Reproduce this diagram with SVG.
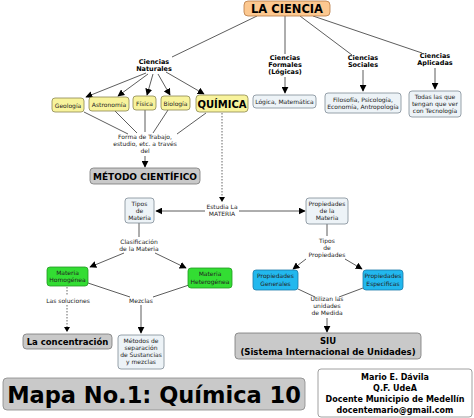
<svg xmlns="http://www.w3.org/2000/svg" width="474" height="418" viewBox="0 0 474 418">
<defs>
<marker id="ah" viewBox="0 0 10 10" refX="9" refY="5" markerWidth="7" markerHeight="7" orient="auto" markerUnits="userSpaceOnUse"><path d="M0,0 L10,5 L0,10 z" fill="#000"/></marker>
<style>
text{font-family:"DejaVu Sans",Verdana,sans-serif;text-anchor:middle;fill:#000}
.s{font-size:6px;fill:#222}
.sb{font-size:6.5px;font-weight:bold}
.ln{stroke:#333;stroke-width:0.8;fill:none}
.ar{stroke:#333;stroke-width:0.8;fill:none;marker-end:url(#ah)}
.dt{stroke:#555;stroke-width:0.9;fill:none;stroke-dasharray:1.5,1.5}
.yel{fill:#f8f39c;stroke:#8a8650;stroke-width:0.8}
.blu{fill:#edf3f7;stroke:#7d8a96;stroke-width:0.8}
.gry{fill:#c9c9c9;stroke:#777;stroke-width:0.8}
.grn{fill:#33dd33;stroke:#229922;stroke-width:0.8}
.cyn{fill:#22b8ee;stroke:#1a7aa8;stroke-width:0.8}
</style>
</defs>
<rect width="474" height="418" fill="#fff"/>
<g id="connectors">
<line class="ln" x1="257" y1="16" x2="172" y2="57"/>
<line class="ln" x1="285" y1="16" x2="285" y2="54"/>
<line class="ln" x1="300" y1="16" x2="352" y2="55"/>
<line class="ln" x1="313" y1="16" x2="422" y2="53"/>
<line class="ar" x1="285" y1="77" x2="285" y2="93"/>
<line class="ar" x1="363" y1="70" x2="363" y2="91"/>
<line class="ar" x1="435" y1="68" x2="435" y2="89"/>
<line class="ar" x1="146" y1="73" x2="86" y2="97"/>
<line class="ar" x1="148" y1="74" x2="118" y2="96"/>
<line class="ar" x1="153" y1="74" x2="147" y2="95"/>
<line class="ar" x1="158" y1="74" x2="170" y2="95"/>
<line class="ar" x1="166" y1="72" x2="204" y2="94"/>
<line class="ln" x1="84" y1="112" x2="128" y2="134"/>
<line class="ln" x1="115" y1="111" x2="137" y2="133"/>
<line class="ln" x1="145" y1="110" x2="145" y2="132"/>
<line class="ln" x1="168" y1="110" x2="153" y2="133"/>
<line class="ln" x1="206" y1="113" x2="177" y2="134"/>
<line class="ar" x1="145" y1="156" x2="145" y2="167"/>
<line class="dt" x1="222" y1="113" x2="222" y2="198"/>
<path d="M219,197 L225,197 L222,202 z" fill="#000"/>
<line class="ar" x1="205" y1="211" x2="156" y2="211"/>
<line class="ar" x1="239" y1="211" x2="305" y2="211"/>
<line class="ln" x1="139" y1="223" x2="139" y2="237"/>
<line class="ar" x1="124" y1="253" x2="90" y2="267"/>
<line class="ar" x1="155" y1="253" x2="186" y2="268"/>
<line class="ln" x1="327" y1="224" x2="327" y2="236"/>
<line class="ar" x1="306" y1="259" x2="293" y2="269"/>
<line class="ar" x1="345" y1="259" x2="362" y2="269"/>
<line class="dt" x1="67" y1="287" x2="67" y2="296"/>
<line class="dt" x1="67" y1="305" x2="67" y2="328"/>
<path d="M64,327 L70,327 L67,332 z" fill="#000"/>
<line class="ln" x1="88" y1="283" x2="130" y2="297"/>
<line class="ln" x1="189" y1="285" x2="153" y2="297"/>
<line class="ar" x1="141" y1="305" x2="141" y2="333"/>
<line class="ln" x1="298" y1="289" x2="315" y2="297"/>
<line class="ln" x1="363" y1="288" x2="339" y2="297"/>
<line class="ar" x1="327" y1="318" x2="327" y2="332"/>
</g>
<g id="la-ciencia"><rect x="244" y="1" width="86" height="15" rx="4" fill="#fcc890" stroke="#b87a45" stroke-width="0.8"/><text x="287" y="13" style="font-size:11.5px;font-weight:bold">LA CIENCIA</text></g>
<g id="ciencias-naturales"><text class="sb" x="154" y="64">Ciencias</text><text class="sb" x="154" y="71">Naturales</text></g>
<g id="ciencias-formales"><text class="sb" x="285" y="60">Ciencias</text><text class="sb" x="285" y="67">Formales</text><text class="sb" x="285" y="74">(Lógicas)</text></g>
<g id="ciencias-sociales"><text class="sb" x="363" y="60">Ciencias</text><text class="sb" x="363" y="67">Sociales</text></g>
<g id="ciencias-aplicadas"><text class="sb" x="435" y="58">Ciencias</text><text class="sb" x="435" y="65">Aplicadas</text></g>
<g id="geologia"><rect class="yel" x="52" y="98" width="32" height="14" rx="3"/><text class="s" x="68" y="107.5">Geología</text></g>
<g id="astronomia"><rect class="yel" x="89" y="97" width="40" height="14" rx="3"/><text class="s" x="109" y="106.5">Astronomía</text></g>
<g id="fisica"><rect class="yel" x="133" y="96" width="23" height="14" rx="3"/><text class="s" x="144.5" y="105.5">Física</text></g>
<g id="biologia"><rect class="yel" x="161" y="96" width="29" height="14" rx="3"/><text class="s" x="175.5" y="105.5">Biología</text></g>
<g id="quimica"><rect class="yel" x="196" y="95" width="52" height="17" rx="3.5"/><text x="222" y="108" style="font-size:10px;font-weight:bold">QUÍMICA</text></g>
<g id="logica"><rect class="blu" x="253" y="95" width="63" height="13" rx="3"/><text class="s" x="284.5" y="104">Lógica, Matemática</text></g>
<g id="filosofia"><rect class="blu" x="325" y="93" width="76" height="20" rx="3"/><text class="s" x="363" y="101.5">Filosofía, Psicología,</text><text class="s" x="363" y="109">Economía, Antropología</text></g>
<g id="todas"><rect class="blu" x="409" y="91" width="52" height="26" rx="3"/><text class="s" x="435" y="99">Todas las que</text><text class="s" x="435" y="106">tengan que ver</text><text class="s" x="435" y="113">con Tecnología</text></g>
<g id="forma-trabajo"><text class="s" x="145" y="139">Forma de Trabajo,</text><text class="s" x="145" y="146">estudio, etc. a través</text><text class="s" x="145" y="153">del</text></g>
<g id="metodo"><rect class="gry" x="90" y="168" width="110" height="16" rx="3.5"/><text x="145" y="180" style="font-size:9px;font-weight:bold">MÉTODO CIENTÍFICO</text></g>
<g id="estudia"><text class="s" x="222" y="209">Estudia La</text><text class="s" x="222" y="216">MATERIA</text></g>
<g id="tipos-materia"><rect class="blu" x="125" y="198" width="29" height="25" rx="3"/><text class="s" x="139.5" y="205.5">Tipos</text><text class="s" x="139.5" y="212.5">de</text><text class="s" x="139.5" y="219.5">Materia</text></g>
<g id="propiedades-materia"><rect class="blu" x="306" y="198" width="42" height="26" rx="3"/><text class="s" x="327" y="206">Propiedades</text><text class="s" x="327" y="213">de la</text><text class="s" x="327" y="220">Materia</text></g>
<g id="clasificacion"><text class="s" x="139" y="244">Clasificación</text><text class="s" x="139" y="251">de la Materia</text></g>
<g id="tipos-propiedades"><text class="s" x="327" y="243">Tipos</text><text class="s" x="327" y="250">de</text><text class="s" x="327" y="257">Propiedades</text></g>
<g id="homogenea"><rect class="grn" x="47" y="267" width="41" height="19" rx="3"/><text class="s" x="67.5" y="275">Materia</text><text class="s" x="67.5" y="282">Homogénea</text></g>
<g id="heterogenea"><rect class="grn" x="188" y="268" width="44" height="20" rx="3"/><text class="s" x="210" y="276">Materia</text><text class="s" x="210" y="283.5">Heterogénea</text></g>
<g id="generales"><rect class="cyn" x="253" y="270" width="45" height="20" rx="3"/><text class="s" x="275.5" y="278">Propiedades</text><text class="s" x="275.5" y="285.5">Generales</text></g>
<g id="especificas"><rect class="cyn" x="363" y="270" width="40" height="20" rx="3"/><text class="s" x="383" y="278">Propiedades</text><text class="s" x="383" y="285.5">Especificas</text></g>
<g id="soluciones"><text class="s" x="68" y="303">Las soluciones</text></g>
<g id="mezclas"><text class="s" x="141" y="303">Mezclas</text></g>
<g id="utilizan"><text class="s" x="327" y="301">Utilizan las</text><text class="s" x="327" y="308">unidades</text><text class="s" x="327" y="315">de Medida</text></g>
<g id="concentracion"><rect class="gry" x="23" y="334" width="89" height="15" rx="3.5"/><text x="67.5" y="345" style="font-size:8.5px;font-weight:bold">La concentración</text></g>
<g id="metodos-separacion"><rect class="blu" x="118" y="335" width="46" height="34" rx="3"/><text class="s" x="141" y="343">Métodos de</text><text class="s" x="141" y="350">separación</text><text class="s" x="141" y="357">de Sustancias</text><text class="s" x="141" y="364">y mezclas</text></g>
<g id="siu"><rect class="gry" x="235" y="333" width="186" height="26" rx="3.5"/><text x="328" y="343.5" style="font-size:8.5px;font-weight:bold">SIU</text><text x="328" y="354.5" style="font-size:8.5px;font-weight:bold">(Sistema Internacional de Unidades)</text></g>
<g id="mapa"><rect x="3" y="378" width="302" height="32" rx="4" fill="#c9c9c9" stroke="#888" stroke-width="0.8"/><text x="154" y="402.5" style="font-size:22.5px;font-weight:bold">Mapa No.1: Química 10</text></g>
<g id="autor"><rect x="318" y="369" width="154" height="48" rx="3" fill="#fff" stroke="#888" stroke-width="0.8"/><text x="395" y="380" style="font-size:8px;font-weight:bold">Mario E. Dávila</text><text x="395" y="391" style="font-size:8px;font-weight:bold">Q.F. UdeA</text><text x="395" y="402" style="font-size:8px;font-weight:bold">Docente Municipio de Medellín</text><text x="395" y="413" style="font-size:8px;font-weight:bold">docentemario@gmail.com</text></g>
</svg>
